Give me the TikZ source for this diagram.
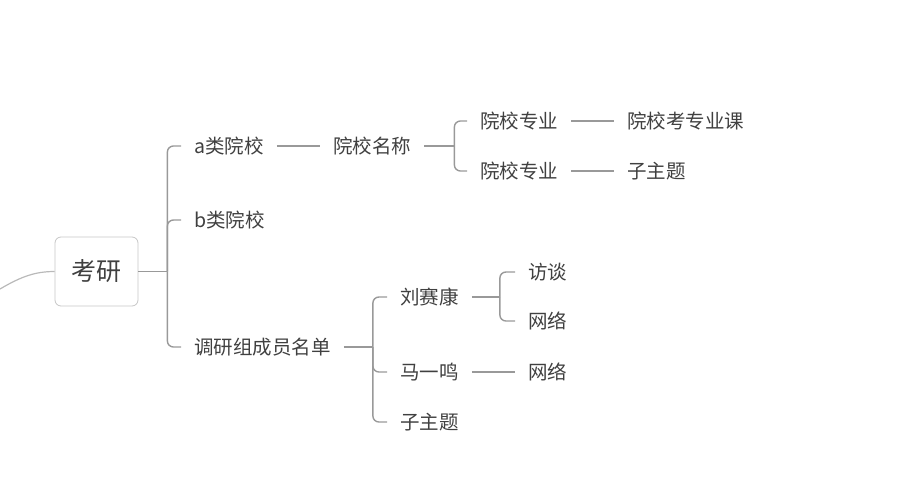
\documentclass[tikz,border=0pt]{standalone}
\usepackage{fontspec}
\setmainfont{Noto Sans CJK SC}
\usepackage{xcolor}
\usepackage{tikz}
\usetikzlibrary{calc, positioning}
\definecolor{txtgray}{HTML}{404040}
\definecolor{linkgray}{HTML}{999999}

\begin{document}
\begin{tikzpicture}[x=1pt, y=-1pt,
    topic/.style={text=txtgray, font=\fontsize{19.5}{22}\selectfont, inner xsep=13pt, inner ysep=4pt, anchor=west},
    link/.style={draw=linkgray, line width=1.4pt},
    bracket/.style={link, rounded corners=6pt}]
    \useasboundingbox (0,0) rectangle (921,480);

    % 中心主题
    \node[draw=gray!45, line width=0.8pt, rounded corners=6pt, minimum width=83pt, minimum height=69pt,
        text=txtgray, font=\fontsize{25}{30}\selectfont] (root) at (96.5,271.5) {考研};
    \coordinate (tail) at (0,289);
    \draw[link, draw=gray!55, line width=1.2pt] (tail) .. controls (22,276) and (36,271.5) .. (root.west);

    % 一级分支
    \node[topic] (a) at (181,146) {a类院校};
    \node[topic] (b) at (181,220) {b类院校};
    \node[topic] (dy) at (181,347) {调研组成员名单};

    % a类院校
    \node[topic] (yx) at (320,146) {院校名称};
    \node[topic] (zy1) at (467,121) {院校专业};
    \node[topic] (zy2) at (467,171) {院校专业};
    \node[topic] (kc) at (614,121) {院校考专业课};
    \node[topic] (zz1) at (614,171) {子主题};

    % 调研组成员名单
    \node[topic] (lsk) at (387,297) {刘赛康};
    \node[topic] (mym) at (387,372) {马一鸣};
    \node[topic] (zz2) at (387,422) {子主题};
    \node[topic] (ft) at (515,272) {访谈};
    \node[topic] (wl1) at (515,321) {网络};
    \node[topic] (wl2) at (515,372) {网络};

    % 连线
    \coordinate (j0) at ([xshift=29pt]root.east);
    \coordinate (j1) at ([xshift=30pt]yx.east);
    \coordinate (j2) at ([xshift=29pt]dy.east);
    \coordinate (j3) at ([xshift=28pt]lsk.east);

    \draw[link, line width=1.8pt] (root.east) -- (j0);
    \foreach \c in {a,b,dy}
        \draw[bracket] (j0) |- (\c.west);

    \draw[link] (a.east) -- (yx.west);
    \draw[link] (yx.east) -- (j1);
    \foreach \c in {zy1,zy2}
        \draw[bracket] (j1) |- (\c.west);
    \draw[link] (zy1.east) -- (kc.west);
    \draw[link] (zy2.east) -- (zz1.west);

    \draw[link] (dy.east) -- (j2);
    \foreach \c in {lsk,mym,zz2}
        \draw[bracket] (j2) |- (\c.west);

    \draw[link] (lsk.east) -- (j3);
    \foreach \c in {ft,wl1}
        \draw[bracket] (j3) |- (\c.west);
    \draw[link] (mym.east) -- (wl2.west);

\end{tikzpicture}
\end{document}
